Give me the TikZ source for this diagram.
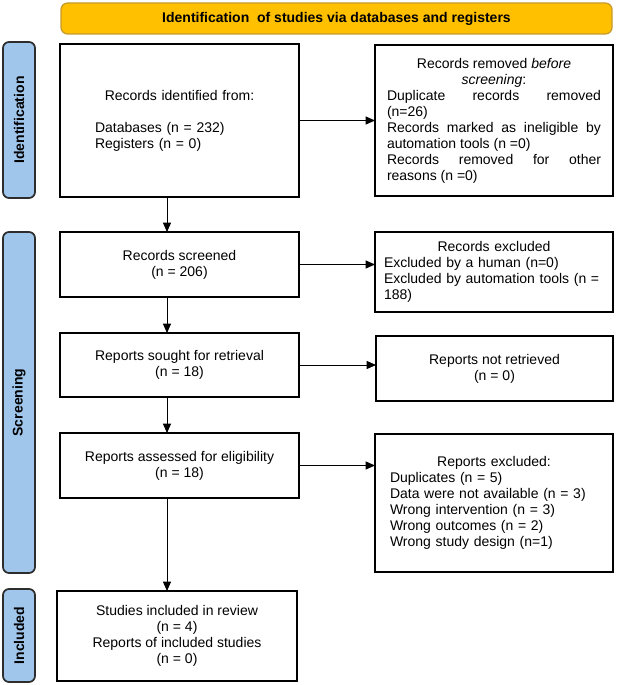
\documentclass[tikz,border=0pt]{standalone}
\usepackage{fontspec}
\setmainfont{Liberation Sans}
\usetikzlibrary{arrows.meta}
\definecolor{barblue}{RGB}{160,198,236}
\definecolor{bardraw}{RGB}{45,45,45}
\definecolor{bannerfill}{RGB}{255,192,0}
\definecolor{bannerdraw}{RGB}{200,155,40}
\newcommand{\pxl}[1]{#1*0.75pt}
\begin{document}
\begin{tikzpicture}[x=0.75pt,y=-0.75pt,
  base/.style={font=\fontsize{10.5pt}{12pt}\selectfont},
  box/.style={base, draw=black, line width=1.2pt, inner sep=0pt, outer sep=0pt, align=center},
  bar/.style={base, font=\fontsize{10.5pt}{12pt}\selectfont\bfseries, draw=bardraw, fill=barblue, line width=1.3pt, rounded corners=4.5pt, inner sep=0pt, rotate=90},
  banner/.style={base, font=\fontsize{10.5pt}{12pt}\selectfont\bfseries, draw=bannerdraw, fill=bannerfill, line width=1pt, rounded corners=5pt, inner sep=0pt},
  arr/.style={line width=0.7pt, -{Triangle[length=7pt,width=6pt]}}
]
\useasboundingbox (0,0) rectangle (617,685);

% banner
\node[banner, minimum width=\pxl{551}, minimum height=\pxl{31}] (ban) at (336.5,18.5)
  {Identification\ \ of studies via databases and registers};

% side bars
\node[bar, minimum width=\pxl{156}, minimum height=\pxl{32}] (barid) at (19,120) {Identification};
\node[bar, minimum width=\pxl{341}, minimum height=\pxl{32}] (barsc) at (19,402.5) {Screening};
\node[bar, minimum width=\pxl{93}, minimum height=\pxl{32}] (barin) at (19,635.5) {Included};

% left column
\node[box, minimum width=\pxl{239}, minimum height=\pxl{153}, text width=\pxl{169}, align=left] (b1) at (179.5,120.5)
  {{\centering Records identified from:\par}\vspace{12pt}Databases (n = 232)\\Registers (n = 0)};
\node[box, minimum width=\pxl{239}, minimum height=\pxl{65}] (b3) at (179.5,264.5)
  {Records screened\\(n = 206)};
\node[box, minimum width=\pxl{239}, minimum height=\pxl{64}] (b5) at (179.5,365)
  {Reports sought for retrieval\\(n = 18)};
\node[box, minimum width=\pxl{239}, minimum height=\pxl{65}] (b7) at (179.5,465.5)
  {Reports assessed for eligibility\\(n = 18)};
\node[box, minimum width=\pxl{240}, minimum height=\pxl{90}] (b9) at (177,636)
  {Studies included in review\\(n = 4)\\Reports of included studies\\(n = 0)};

% right column
\node[box, minimum width=\pxl{238}, minimum height=\pxl{151}, text width=\pxl{214}, align=justify] (b2) at (494,120.5)
  {{\centering Records removed \textit{before}\\\textit{screening}:\par}%
   Duplicate records removed\linebreak (n=26)\par
   Records marked as ineligible by\linebreak automation tools (n =0)\par
   Records removed for other\linebreak reasons (n =0)};
\node[box, minimum width=\pxl{238}, minimum height=\pxl{80}, text width=\pxl{220}, align=left] (b4) at (494,272)
  {{\centering Records excluded\par}Excluded by a human (n=0)\\Excluded by automation tools (n =\\188)};
\node[box, minimum width=\pxl{237}, minimum height=\pxl{65}] (b6) at (494.5,368.5)
  {Reports not retrieved\\(n = 0)};
\node[box, minimum width=\pxl{238}, minimum height=\pxl{138}, text width=\pxl{208}, align=left] (b8) at (494,503)
  {{\centering Reports excluded:\par}Duplicates (n = 5)\\Data were not available (n = 3)\\Wrong intervention (n = 3)\\Wrong outcomes (n = 2)\\Wrong study design (n=1)};

% connectors
\coordinate (ax) at (167,0);
\draw[arr] (b1.south -| ax) -- (b3.north -| ax);
\draw[arr] (b3.south -| ax) -- (b5.north -| ax);
\draw[arr] (b5.south -| ax) -- (b7.north -| ax);
\draw[arr] (b7.south -| ax) -- (b9.north -| ax);

\draw[arr] (b1.east) -- (b1.east -| b2.west);
\draw[arr] (b3.east) -- (b3.east -| b4.west);
\draw[arr] (b5.east) -- (b5.east -| b6.west);
\draw[arr] (b7.east) -- (b7.east -| b8.west);
\end{tikzpicture}
\end{document}
